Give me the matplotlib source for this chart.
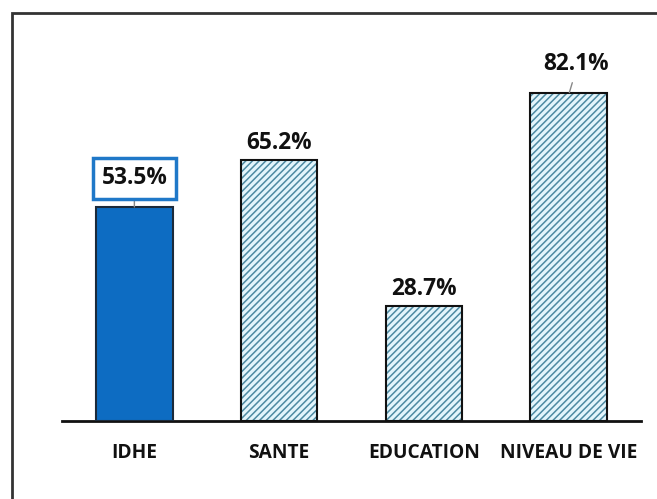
import matplotlib
matplotlib.use("Agg")
import matplotlib.pyplot as plt
from matplotlib.patches import Rectangle

# indices de developpement humain (en %)
categories = ["IDHE", "SANTE", "EDUCATION", "NIVEAU DE VIE"]
values = [53.5, 65.2, 28.7, 82.1]
labels = ["53.5%", "65.2%", "28.7%", "82.1%"]

plt.rcParams['font.family'] = ['Open Sans', 'DejaVu Sans']
plt.rcParams['hatch.linewidth'] = 1.1

fig = plt.figure(figsize=(6.57, 4.99), dpi=100)
ax = fig.add_axes([62 / 657, 78 / 499, 579 / 657, 400 / 499])

x = list(range(len(categories)))
w = 0.53

# barre principale pleine, les autres hachurees
ax.bar(x[0], values[0], width=w, color='#0d6cc2', edgecolor='#1b2a3a', linewidth=1.5, zorder=3)
ax.bar(x[1:], values[1:], width=w, color='#e2f5fc', edgecolor='#4d8aa2',
       hatch='/////', linewidth=0, zorder=2)
ax.bar(x[1:], values[1:], width=w, color='none', edgecolor='#111111', linewidth=1.5, zorder=3)

# etiquettes de valeur
fs = 16.3
ax.annotate(labels[0], xy=(x[0], values[0]), xytext=(0, 12), textcoords='offset points',
            ha='center', va='bottom', fontsize=fs, fontweight='bold', color='#111111',
            bbox=dict(boxstyle='square,pad=0.38', fc='white', ec='#1f78c8', lw=2.5),
            arrowprops=dict(arrowstyle='-', color='#888888', lw=1, shrinkA=0, shrinkB=0),
            zorder=5)
for i in (1, 2):
    ax.annotate(labels[i], xy=(x[i], values[i]), xytext=(0, 4), textcoords='offset points',
                ha='center', va='bottom', fontsize=fs, fontweight='bold', color='#111111')
ax.annotate(labels[3], xy=(x[3] + 0.005, values[3]), xytext=(5, 12), textcoords='offset points',
            ha='center', va='bottom', fontsize=fs, fontweight='bold', color='#111111',
            arrowprops=dict(arrowstyle='-', color='#888888', lw=1, shrinkA=3, shrinkB=0,
                            relpos=(0.47, 0)))

ax.set_xlim(-0.5, 3.5)
ax.set_ylim(0, 100)
ax.set_xticks(x)
ax.set_xticklabels(categories, fontsize=13.8, fontweight='bold', color='#111111')
ax.tick_params(axis='x', length=0, pad=16)
ax.set_yticks([])
for s in ('top', 'left', 'right'):
    ax.spines[s].set_visible(False)
ax.spines['bottom'].set_linewidth(2)
ax.spines['bottom'].set_color('#111111')

# cadre exterieur
fig.add_artist(Rectangle((11.5 / 657, -0.1), 1.0, (499 - 12.5) / 499 + 0.1,
                         transform=fig.transFigure, fill=False,
                         edgecolor='#333333', linewidth=2))

fig.savefig("out.png", dpi=100)
